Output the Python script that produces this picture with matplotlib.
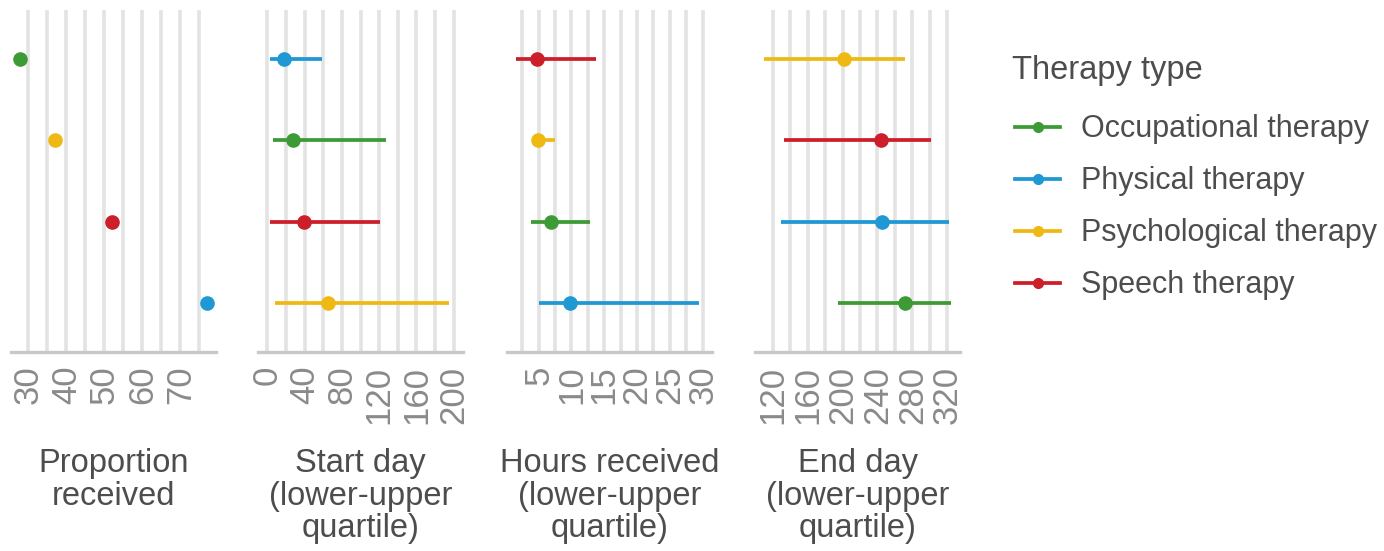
import numpy as np
import matplotlib
matplotlib.use("Agg")
import matplotlib.pyplot as plt
from matplotlib.lines import Line2D

plt.rcParams['font.family'] = ['Liberation Sans', 'DejaVu Sans']

therapies = ["Occupational therapy", "Physical therapy",
             "Psychological therapy", "Speech therapy"]
colours = ["#3d9b35", "#1f98d4", "#efb914", "#cc1f2a"]

# proportion received (%)
prop_est = [27.9, 76.9, 36.9, 52.0]

# start day: median, lower and upper quartile
start_med = [27.2, 17.6, 65.1, 39.6]
start_lo = [5.9, 2.4, 8.3, 3.1]
start_hi = [126.9, 58.6, 195.5, 121.0]

# hours received
hours_med = [6.9, 9.85, 4.9, 4.75]
hours_lo = [3.9, 5.0, 4.7, 1.6]
hours_hi = [12.8, 29.4, 7.5, 13.7]

# end day
end_med = [272.0, 245.0, 201.7, 244.5]
end_lo = [194.5, 129.5, 110.4, 132.5]
end_hi = [323.8, 322.0, 271.7, 301.0]

titles = ["Proportion\nreceived", "Start day\n(lower-upper\nquartile)",
          "Hours received\n(lower-upper\nquartile)", "End day\n(lower-upper\nquartile)"]

panels = [
    dict(est=prop_est, lo=None, hi=None, ticks=[30, 40, 50, 60, 70],
         grid=np.arange(30, 80, 5)),
    dict(est=start_med, lo=start_lo, hi=start_hi, ticks=[0, 40, 80, 120, 160, 200],
         grid=np.arange(0, 220, 20)),
    dict(est=hours_med, lo=hours_lo, hi=hours_hi, ticks=[5, 10, 15, 20, 25, 30],
         grid=np.arange(2.5, 31, 2.5)),
    dict(est=end_med, lo=end_lo, hi=end_hi, ticks=[120, 160, 200, 240, 280, 320],
         grid=np.arange(120, 340, 20)),
]

W, H = 1384, 551
fig = plt.figure(figsize=(W / 100, H / 100), dpi=100)

lefts = [11, 258, 507, 755]
ax_w = 205
ax_top, ax_bot = 10, 351.7

for i, p in enumerate(panels):
    ax = fig.add_axes([lefts[i] / W, (H - ax_bot) / H, ax_w / W, (ax_bot - ax_top) / H])
    est = np.array(p["est"])
    order = np.argsort(est, kind="stable")
    rows = np.empty(4)
    rows[order] = np.arange(1, 5)

    for g in p["grid"]:
        ax.axvline(g, color="#e3e3e3", lw=2.6, zorder=0)

    for k in range(4):
        if p["lo"] is not None:
            ax.plot([p["lo"][k], p["hi"][k]], [rows[k], rows[k]],
                    color=colours[k], lw=2.7, solid_capstyle="butt", zorder=2)
        ax.plot(est[k], rows[k], "o", color=colours[k], ms=9.5, zorder=3)

    ax.margins(x=0.05)
    ax.set_ylim(4.6, 0.4)
    ax.set_yticks([])
    ax.set_xticks(p["ticks"])
    ax.set_xticklabels([str(t) for t in p["ticks"]], rotation=90,
                       fontsize=25, color="#8a8a8a")
    ax.tick_params(axis="x", length=0, pad=10)
    for s in ["top", "right", "left"]:
        ax.spines[s].set_visible(False)
    ax.spines["bottom"].set_color("#c8c8c8")
    ax.spines["bottom"].set_linewidth(2.4)

    cx = (lefts[i] + ax_w / 2) / W
    fig.text(cx, 1 - 448 / H, titles[i], ha="center", va="top",
             fontsize=23.5, color="#4d4d4d", linespacing=1.07)

fig.text(1012 / W, 1 - 71 / H, "Therapy type", ha="left", va="center",
         fontsize=23.5, color="#4d4d4d")

handles = [Line2D([0], [0], color=c, lw=2.7, marker="o", ms=7) for c in colours]
leg = fig.legend(handles, therapies, loc="upper left",
                 bbox_to_anchor=(988 / W, 1 - 87 / H), frameon=False,
                 fontsize=22, handlelength=1.45, handletextpad=0.7,
                 labelspacing=0.72)
for t in leg.get_texts():
    t.set_color("#4d4d4d")

fig.savefig("out.png", dpi=100, facecolor="white")
